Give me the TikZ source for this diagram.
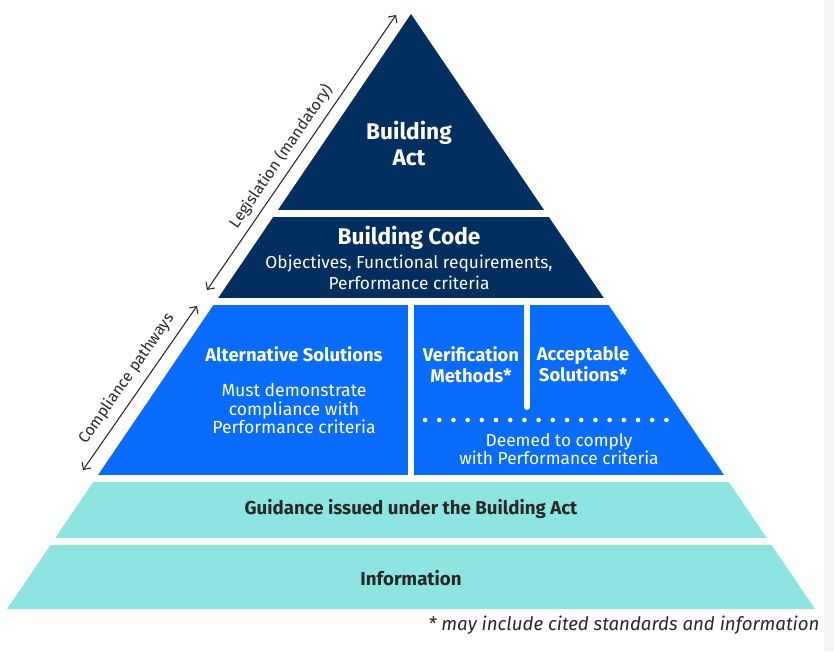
\documentclass[tikz,border=0pt]{standalone}
\usepackage{fontspec}
\setmainfont{Fira Sans}
\usetikzlibrary{arrows.meta}

\definecolor{actnavy}{RGB}{0,46,94}
\definecolor{pathblue}{RGB}{10,108,252}
\definecolor{guideteal}{RGB}{142,228,224}
\definecolor{inkgray}{RGB}{40,40,40}

\tikzset{
  headtxt/.style={text=white,inner sep=0pt,align=center,font=\bfseries\fontsize{17}{19.5}\selectfont},
  codetxt/.style={text=white,inner sep=0pt,align=center,font=\fontsize{13}{15.75}\selectfont},
  bluehead/.style={text=white,inner sep=0pt,align=center,font=\bfseries\fontsize{13.8}{15.75}\selectfont},
  bluetxt/.style={text=white,inner sep=0pt,align=center,font=\fontsize{13.2}{14}\selectfont},
  tealtxt/.style={text=inkgray,inner sep=0pt,align=center,font=\bfseries\fontsize{14}{16}\selectfont},
  sidetxt/.style={text=inkgray,anchor=south,font=\fontsize{11.8}{13}\selectfont},
  sidearrow/.style={inkgray,line width=0.8pt,{Straight Barb[length=4pt]}-{Straight Barb[length=4pt]}}
}

\begin{document}
\begin{tikzpicture}[x=0.75pt,y=0.75pt,yscale=-1,xscale=1]
\useasboundingbox (0,0) rectangle (834,651);
\fill[black!4] (824,0) rectangle (834,651);

% pyramid, cut into bands
\begin{scope}
\clip (411,14) -- (815,609) -- (7,609) -- cycle;
\fill[actnavy] (0,0) rectangle (834,210);
\fill[actnavy] (0,217) rectangle (834,298);
\fill[pathblue] (0,305) rectangle (408,475);
\fill[pathblue] (414,305) rectangle (834,475);
\fill[guideteal] (0,482) rectangle (834,538);
\fill[guideteal] (0,545) rectangle (834,609);
\end{scope}
\draw[white,line width=4.5pt,line cap=round] (527,305) -- (527,407);
\foreach \i in {0,...,17}
  \fill[white] ({425+14.2*\i},420) circle (2.3);

% texts
\node[headtxt] (act) at (409,143) {Building\\Act};
\node[headtxt] (code) at (409,238) {Building Code};
\node[codetxt] (codesub) at (409,272.5) {Objectives, Functional requirements,\\Performance criteria};
\node[bluehead] (alt) at (294,354) {Alternative Solutions};
\node[bluetxt] (altsub) at (294,408.5) {Must demonstrate\\compliance with\\Performance criteria};
\node[bluehead] (vm) at (471,364.5) {Verification\\Methods*};
\node[bluehead] (as) at (583,364.5) {Acceptable\\Solutions*};
\node[bluetxt,font=\fontsize{13}{12}\selectfont] (deemed) at (559,449) {Deemed to comply\\with Performance criteria};
\node[tealtxt] (guide) at (411,509) {Guidance issued under the Building Act};
\node[tealtxt] (info) at (411,578) {Information};
\node[text=inkgray,inner sep=0pt,font=\itshape\fontsize{14}{16}\selectfont] (note) at (624,625) {* may include cited standards and information};

% side arrows
\coordinate (legbot) at (207,290);
\coordinate (legtop) at (396,15);
\coordinate (compbot) at (83,470);
\coordinate (comptop) at (197,306);
\draw[sidearrow] (legbot) -- (legtop) node[sidetxt,pos=0.456,rotate=55.6,inner sep=4.5pt] (leg) {Legislation (mandatory)};
\draw[sidearrow] (compbot) -- (comptop) node[sidetxt,pos=0.5,rotate=55.2,inner sep=6pt] (comp) {Compliance pathways};
\end{tikzpicture}
\end{document}
